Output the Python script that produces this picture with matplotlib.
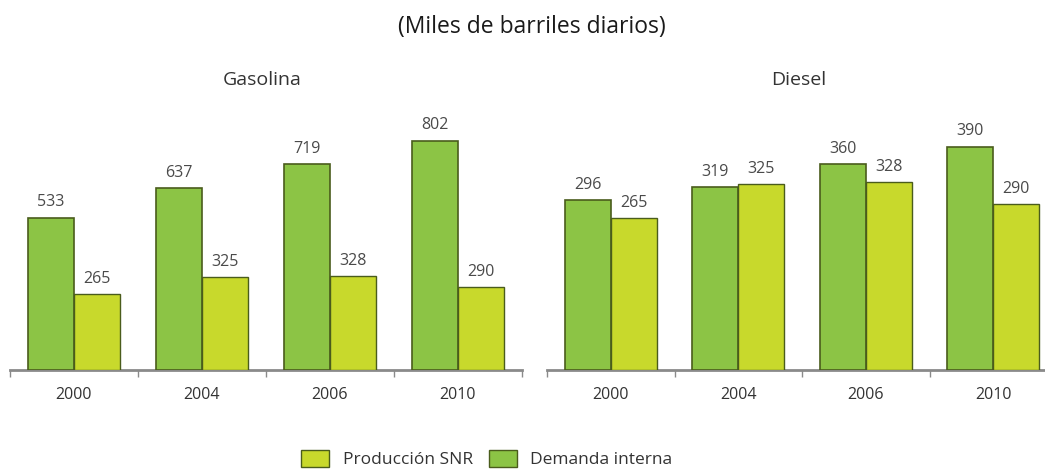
import numpy as np
import matplotlib.pyplot as plt
from matplotlib.patches import Patch

# ----- DATOS -----
anios = ["2000", "2004", "2006", "2010"]
gas_demanda = [533, 637, 719, 802]
gas_produccion = [265, 325, 328, 290]
die_demanda = [296, 319, 360, 390]
die_produccion = [265, 325, 328, 290]

verde = "#8cc445"
amarillo = "#c8d92c"
borde = "#4a5c1c"
gris = "#8a8a8a"

plt.rcParams['font.family'] = ['Open Sans', 'DejaVu Sans']

fig = plt.figure(figsize=(10.45, 4.69), dpi=100)
W, H = 1045, 469


def panel(x0, x1, demanda, produccion, ymax, titulo):
    # ejes en pixeles -> fraccion de figura
    ax = fig.add_axes([x0 / W, (H - 370) / H, (x1 - x0) / W, 240 / H])
    x = np.arange(len(anios))
    ancho = 0.36
    ax.bar(x - ancho / 2, demanda, ancho, color=verde, edgecolor=borde, linewidth=1.2, zorder=3)
    ax.bar(x + ancho / 2, produccion, ancho, color=amarillo, edgecolor=borde, linewidth=1.0, zorder=3)
    for xi, v in zip(x - ancho / 2, demanda):
        ax.text(xi, v + ymax * 0.03, str(v), ha='center', va='bottom', fontsize=11.5, color='#4a4a4a')
    for xi, v in zip(x + ancho / 2, produccion):
        ax.text(xi, v + ymax * 0.03, str(v), ha='center', va='bottom', fontsize=11.5, color='#4a4a4a')
    ax.set_xlim(-0.5, len(anios) - 0.5)
    ax.set_ylim(0, ymax)
    for s in ['top', 'right', 'left']:
        ax.spines[s].set_visible(False)
    ax.spines['bottom'].set_color(gris)
    ax.spines['bottom'].set_linewidth(2)
    ax.set_yticks([])
    ax.set_xticks(np.arange(len(anios) + 1) - 0.5)
    ax.set_xticklabels([])
    ax.set_xticks(x, minor=True)
    ax.set_xticklabels(anios, minor=True, fontsize=11.5, color='#333333')
    ax.tick_params(axis='x', which='major', length=5, width=1, color=gris, direction='out')
    ax.tick_params(axis='x', which='minor', length=0, pad=12)
    fig.text((x0 + 252) / W, 1 - 80 / H, titulo, ha='center', va='center', fontsize=14, color='#333333')
    return ax


panel(10, 522, gas_demanda, gas_produccion, 839, "Gasolina")
panel(547, 1057, die_demanda, die_produccion, 419, "Diesel")

fig.text(532 / W, 1 - 27 / H, "(Miles de barriles diarios)", ha='center', va='center',
         fontsize=16.5, color='#1a1a1a')

handles = [Patch(facecolor=amarillo, edgecolor=borde, label="Producción SNR"),
           Patch(facecolor=verde, edgecolor=borde, label="Demanda interna")]
fig.legend(handles=handles, loc='center', bbox_to_anchor=(487 / W, 1 - 459 / H), ncol=2,
           frameon=False, fontsize=12.5, handlelength=1.6, handleheight=1.2,
           columnspacing=0.9, handletextpad=0.8, labelcolor='#333333')

fig.savefig("out.png", dpi=100)
